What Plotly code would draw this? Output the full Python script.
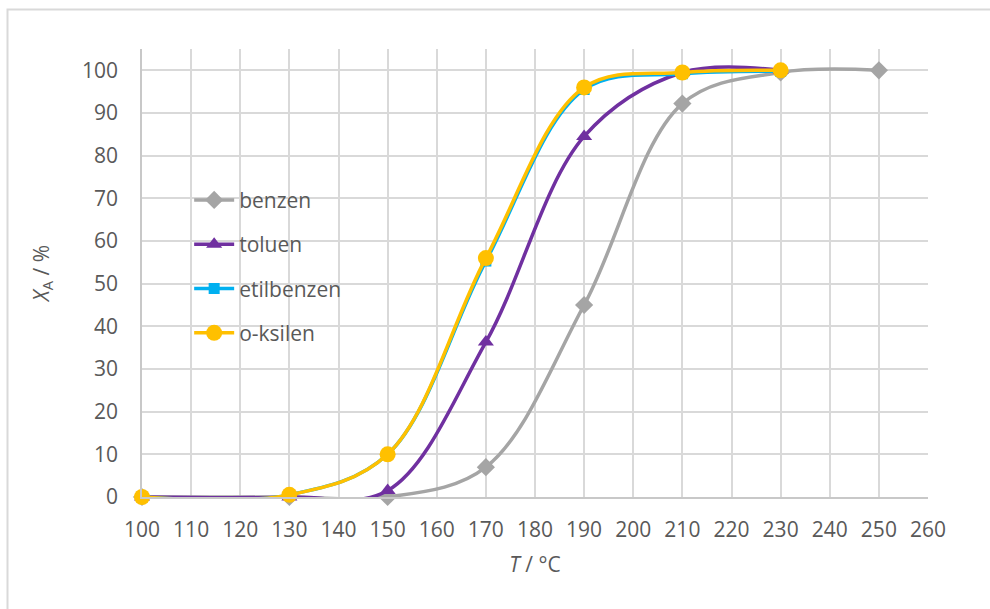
import plotly.graph_objects as go

# ---- data ----
t_benzen = [100, 130, 150, 170, 190, 210, 230, 250]
x_benzen = [0, 0, 0, 7, 45, 92.2, 99.5, 100]

t_toluen = [100, 130, 150, 170, 190, 210, 230]
x_toluen = [0, 0, 1.5, 36.3, 84.5, 99.5, 100]

t_etil = [100, 130, 150, 170, 190, 210, 230]
x_etil = [0, 0.5, 10, 55.3, 95.5, 99.2, 99.8]

t_oks = [100, 130, 150, 170, 190, 210, 230]
x_oks = [0, 0.5, 10, 56, 96, 99.5, 100]

names = ["benzen", "toluen", "etilbenzen", "o-ksilen"]
colors = ["#A5A5A5", "#7030A0", "#00B0F0", "#FFC000"]
symbols = ["diamond", "triangle-up", "square", "circle"]
msizes = [14, 14, 11, 16]

series = [(t_benzen, x_benzen), (t_toluen, x_toluen), (t_etil, x_etil), (t_oks, x_oks)]

FONT = "Open Sans"
TXT = "#595959"
FS = 21

fig = go.Figure()
for i, (tx, ty) in enumerate(series):
    fig.add_trace(go.Scatter(
        x=tx, y=ty, name=names[i], mode="lines+markers",
        line=dict(color=colors[i], width=3.5, shape="spline", smoothing=1.0),
        marker=dict(symbol=symbols[i], size=msizes[i], color=colors[i]),
        cliponaxis=False, legendgroup=names[i],
    ))

fig.update_layout(
    width=990, height=609,
    margin=dict(l=142, r=62, t=49, b=112),
    paper_bgcolor="white", plot_bgcolor="white",
    font=dict(family=FONT, size=FS, color=TXT),
    showlegend=True,
    legend=dict(x=0.06, y=0.708, xanchor="left", yanchor="top",
                bgcolor="rgba(0,0,0,0)", traceorder="grouped",
                tracegroupgap=14, font=dict(family=FONT, size=FS, color=TXT),
                itemwidth=40),
    xaxis=dict(range=[100, 260], tick0=100, dtick=10, showgrid=True,
               gridcolor="#D9D9D9", gridwidth=1.5, zeroline=False,
               showline=True, linecolor="#C8C8C8", linewidth=1.5,
               ticks="", ticklabelstandoff=13,
               title=dict(text="<i>T</i> / °C", standoff=15,
                          font=dict(family=FONT, size=FS, color=TXT))),
    yaxis=dict(range=[0, 105], tick0=0, dtick=10, showgrid=True,
               gridcolor="#D9D9D9", gridwidth=1.5, zeroline=False,
               showline=True, linecolor="#C8C8C8", linewidth=1.5,
               ticks="", ticklabelstandoff=18,
               title=dict(text="<i>X</i><sub>A</sub> / %", standoff=27,
                          font=dict(family=FONT, size=FS, color=TXT))),
    shapes=[dict(type="rect", xref="paper", yref="paper",
                 x0=(7.5 - 142) / 786, x1=1.2, y0=-0.4, y1=(497 - 9.5) / 448,
                 line=dict(color="#D9D9D9", width=2), layer="below")],
)

fig.write_html("out.html", config={"displayModeBar": False},
               post_script="document.body.style.margin='0';document.body.style.padding='0';")
